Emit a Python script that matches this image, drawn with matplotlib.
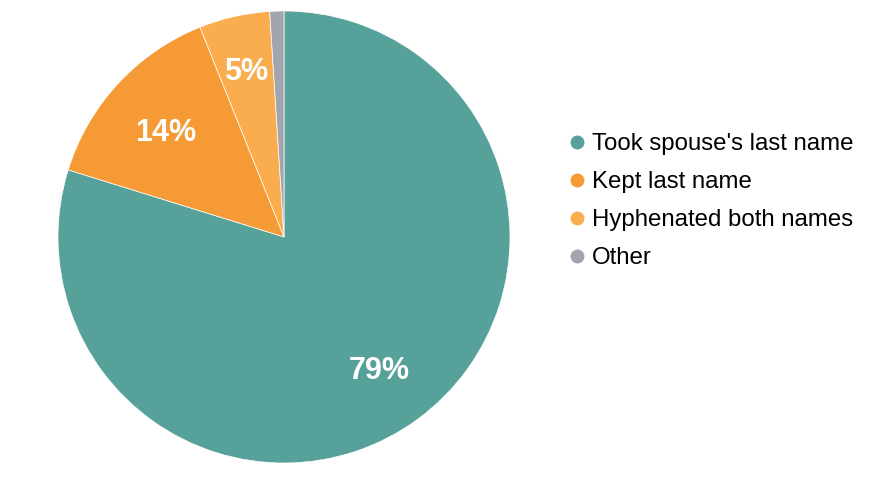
import matplotlib.pyplot as plt
from matplotlib.lines import Line2D
import numpy as np

plt.rcParams['font.family'] = ['Liberation Sans', 'DejaVu Sans']

labels = ["Took spouse's last name", "Kept last name", "Hyphenated both names", "Other"]
values = [79, 14, 5, 1]
pct_text = ["79%", "14%", "5%", ""]
colors = ['#56a19a', '#f59a35', '#f9ad4f', '#a2a4ae']

W, H = 893, 490
fig = plt.figure(figsize=(W / 100, H / 100), dpi=100)

# pie centre and radius in pixels
cx, cy, r = 284, 237, 226
ax = fig.add_axes([(cx - r) / W, (H - cy - r) / H, 2 * r / W, 2 * r / H])

wedges, _ = ax.pie(values, colors=colors, startangle=90, counterclock=False,
                   radius=1, wedgeprops=dict(edgecolor='white', linewidth=0.5))
ax.set_xlim(-1, 1)
ax.set_ylim(-1, 1)
ax.set_aspect('equal')
ax.axis('off')

# percentage labels, pushed out a bit more on the narrow slice
dist = [0.71, 0.71, 0.77, 0.7]
shift = -5 / r
for w, txt, d in zip(wedges, pct_text, dist):
    if not txt:
        continue
    ang = np.deg2rad((w.theta1 + w.theta2) / 2)
    ax.text(d * np.cos(ang), d * np.sin(ang) + shift, txt, ha='center', va='center',
            color='white', fontsize=22, fontweight='bold')

handles = [Line2D([], [], marker='o', linestyle='', markersize=9,
                  markerfacecolor=c, markeredgecolor=c) for c in colors]
fig.legend(handles, labels, loc='upper left', bbox_to_anchor=(570 / W, 1 - 133 / H),
           frameon=False, fontsize=17.3, handlelength=0.6, handletextpad=0.3,
           labelspacing=0.67, borderaxespad=0, borderpad=0)

fig.savefig('out.png', dpi=100)
